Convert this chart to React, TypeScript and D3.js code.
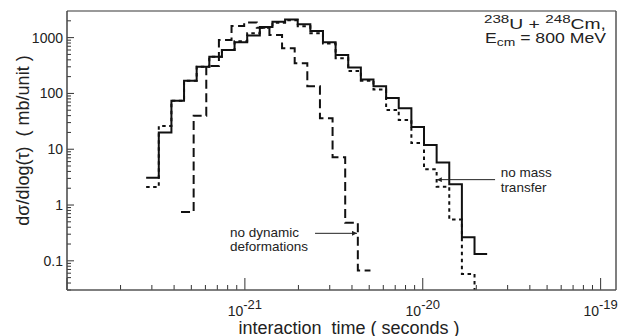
import React from 'react';
import * as d3 from 'd3';

const W = 618;
const H = 336;
const plot = { left: 67, right: 616, top: 11, bottom: 290 };

const xDomain: [number, number] = [1e-22, 1.22e-19];
const yDomain: [number, number] = [0.03, 3000];

// Histogram binning in log10(tau): left edge of first bin and bin width (decades)
const binWidth = 0.071;
const fullStart = -21.555;
const noMassStart = -21.555;
const noDefStart = -21.359;

// d sigma / d log(tau), mb/unit, one value per bin
const fullValues = [
  3.08, 19.9, 74, 169, 301, 455, 600, 824, 1090, 1550, 1920, 2110, 1740, 1310,
  830, 490, 290, 178, 135, 83, 54, 25, 11.9, 5.8, 2.35, 0.264, 0.132,
];
const noMassValues = [
  2.1, 26, 74, 169, 301, 455, 600, 860, 1200, 1500, 1850, 2050, 1600, 1195,
  784, 426, 252, 169, 117, 50.4, 33.4, 12.9, 4.36, 2.13, 0.55, 0.058, 0.005,
];
const noDefValues = [
  0.75, 40, 310, 906, 1614, 1862, 1500, 1110, 643, 346, 135, 36, 7.2, 0.48,
  0.067,
];

const yMajorTicks = [0.1, 1, 10, 100, 1000];
const yTickLabels = ['0.1', '1', '10', '100', '1000'];
const xMajorTicks = [1e-21, 1e-20, 1e-19];
const xTickExponents = ['-21', '-20', '-19'];

const FONT = "'Liberation Sans', Arial, Helvetica, sans-serif";

const x = d3.scaleLog().domain(xDomain).range([plot.left, plot.right]);
const y = d3.scaleLog().domain(yDomain).range([plot.bottom, plot.top]);

function stepPoints(startLog: number, values: number[]): [number, number][] {
  const pts: [number, number][] = values.map((v, i) => [
    Math.pow(10, startLog + i * binWidth),
    v,
  ]);
  pts.push([
    Math.pow(10, startLog + values.length * binWidth),
    values[values.length - 1],
  ]);
  return pts;
}

const stepLine = d3
  .line<[number, number]>()
  .x((d) => x(d[0]))
  .y((d) => y(d[1]))
  .curve(d3.curveStepAfter);

const series = [
  { name: 'full', start: fullStart, values: fullValues, dash: undefined as string | undefined },
  { name: 'noMass', start: noMassStart, values: noMassValues, dash: '3.5,3.5' },
  { name: 'noDef', start: noDefStart, values: noDefValues, dash: '9,4.5' },
];

// Annotation anchors in data space (tau, value)
const annotations = [
  {
    lines: ['no mass', 'transfer'],
    text: [2.74e-20, 3.0] as [number, number],
    from: [2.55e-20, 2.85] as [number, number],
    to: [1.2e-20, 2.85] as [number, number],
    dy: [-2.5, 12],
  },
  {
    lines: ['no dynamic', 'deformations'],
    text: [8.24e-22, 0.311] as [number, number],
    from: [2.48e-21, 0.311] as [number, number],
    to: [4.27e-21, 0.311] as [number, number],
    dy: [4, 18],
  },
];

export default function App() {
  const xTicks = x.ticks();
  const yTicks = y.ticks();
  const isMajor = (v: number) => Math.abs(Math.log10(v) - Math.round(Math.log10(v))) < 1e-6;

  return (
    <svg
      width={W}
      height={H}
      viewBox={`0 0 ${W} ${H}`}
      style={{ position: 'absolute', left: 0, top: 0, background: '#fff' }}
      fontFamily={FONT}
    >
      <defs>
        <clipPath id="plotClip">
          <rect x={plot.left} y={plot.top} width={plot.right - plot.left} height={plot.bottom - plot.top} />
        </clipPath>
        <marker id="arrowHead" viewBox="0 0 10 10" refX="10" refY="5" markerWidth="7" markerHeight="5" orient="auto" markerUnits="userSpaceOnUse">
          <path d="M0,0 L10,5 L0,10 Z" fill="#222" />
        </marker>
      </defs>
      <rect x={0} y={0} width={W} height={H} fill="#fff" />

      {/* y ticks (inside, pointing right) */}
      {yTicks.map((t, i) => {
        const major = isMajor(t);
        const py = y(t);
        if (py < plot.top + 0.5) return null;
        return (
          <line key={`yt${i}`} x1={plot.left} x2={plot.left + (major ? 7 : 4)} y1={py} y2={py} stroke="#333" strokeWidth={1} />
        );
      })}
      {/* x ticks (inside, pointing up) */}
      {xTicks.map((t, i) => {
        const major = isMajor(t);
        const px = x(t);
        if (px > plot.right - 0.5) return null;
        return (
          <line key={`xt${i}`} x1={px} x2={px} y1={plot.bottom} y2={plot.bottom - (major ? 12 : 5)} stroke="#333" strokeWidth={1} />
        );
      })}

      {/* histograms */}
      <g clipPath="url(#plotClip)">
        {series.map((s) => (
          <path
            key={s.name}
            d={stepLine(stepPoints(s.start, s.values)) || ''}
            fill="none"
            stroke="#111"
            strokeWidth={2}
            strokeDasharray={s.dash}
          />
        ))}
      </g>

      {/* frame */}
      <line x1={plot.left} x2={plot.right} y1={plot.top} y2={plot.top} stroke="#999" strokeWidth={2} />
      <line x1={plot.right} x2={plot.right} y1={plot.top} y2={plot.bottom} stroke="#555" strokeWidth={1.5} />
      <line x1={plot.left} x2={plot.left} y1={plot.top} y2={plot.bottom} stroke="#444" strokeWidth={1.5} />
      <line x1={plot.left} x2={plot.right} y1={plot.bottom} y2={plot.bottom} stroke="#555" strokeWidth={1.5} />

      {/* y tick labels */}
      {yMajorTicks.map((t, i) => (
        <text key={`yl${i}`} x={plot.left - 4} y={y(t)} dy="0.36em" textAnchor="end" fontSize={14} fill="#222">
          {yTickLabels[i]}
        </text>
      ))}
      {/* x tick labels */}
      {xMajorTicks.map((t, i) => (
        <text key={`xl${i}`} x={x(t)} y={316} textAnchor="middle" fontSize={14} fill="#222">
          10
          <tspan dy={-7} fontSize={13}>{xTickExponents[i]}</tspan>
        </text>
      ))}

      {/* axis titles */}
      <text x={349} y={333.5} textAnchor="middle" fontSize={18} fill="#222" style={{ whiteSpace: 'pre' }}>
        {'interaction  time ( seconds )'}
      </text>
      <text transform="translate(29,140.5) rotate(-90)" textAnchor="middle" fontSize={18} fill="#222" style={{ whiteSpace: 'pre' }}>
        {'dσ/dlog(τ)  ( mb/unit )'}
      </text>

      {/* reaction label */}
      <text x={484} y={29} fontSize={14} fill="#222" textLength={122} lengthAdjust="spacingAndGlyphs" style={{ whiteSpace: 'pre' }}>
        <tspan fontSize={11} dy={-6}>238</tspan>
        <tspan dy={6}>U + </tspan>
        <tspan fontSize={11} dy={-6}>248</tspan>
        <tspan dy={6}>Cm,</tspan>
      </text>
      <text x={485} y={43} fontSize={14} fill="#222" textLength={121} lengthAdjust="spacingAndGlyphs" style={{ whiteSpace: 'pre' }}>
        <tspan>E</tspan>
        <tspan fontSize={11} dy={3}>cm</tspan>
        <tspan dy={-3}> = 800 MeV</tspan>
      </text>

      {/* curve annotations */}
      {annotations.map((a, i) => (
        <g key={`an${i}`}>
          <line
            x1={x(a.from[0])}
            y1={y(a.from[1])}
            x2={x(a.to[0])}
            y2={y(a.to[1])}
            stroke="#222"
            strokeWidth={1}
            markerEnd="url(#arrowHead)"
          />
          {a.lines.map((ln, j) => (
            <text key={j} x={x(a.text[0])} y={y(a.from[1]) + a.dy[j]} fontSize={13.5} fill="#222">
              {ln}
            </text>
          ))}
        </g>
      ))}
    </svg>
  );
}
